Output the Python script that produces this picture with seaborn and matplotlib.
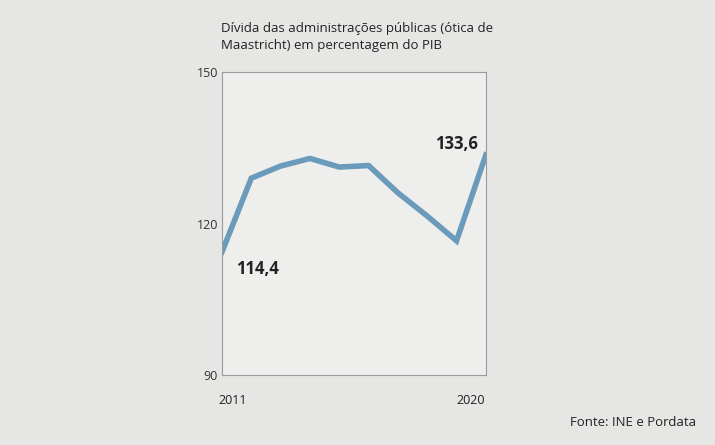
import matplotlib
matplotlib.use("Agg")
import matplotlib.pyplot as plt
import seaborn as sns
import pandas as pd

years = [2011, 2012, 2013, 2014, 2015, 2016, 2017, 2018, 2019, 2020]
debt = [114.4, 129.0, 131.4, 132.9, 131.2, 131.5, 126.1, 121.5, 116.6, 133.6]
yticks = [90, 120, 150]
df = pd.DataFrame({"ano": years, "divida": debt})

plt.rcParams["font.family"] = "Open Sans"
fig = plt.figure(figsize=(7.15, 4.45), dpi=100, facecolor="#e6e6e4")
ax = fig.add_axes([0.3105, 0.157, 0.369, 0.681])
ax.set_facecolor((1, 1, 1, 0.35))
sns.lineplot(data=df, x="ano", y="divida", ax=ax, color="#6b9bbb", linewidth=4,
             solid_joinstyle="miter")
ax.set_xlim(2011, 2020)
ax.set_ylim(90, 150)
ax.set_yticks(yticks)
ax.set_yticklabels([str(t) for t in yticks], fontsize=9, color="#333333")
ax.tick_params(axis="y", length=0, pad=3)
ax.set_xticks([])
ax.set_xlabel("")
ax.set_ylabel("")
for s in ax.spines.values():
    s.set_color("#9a9a9a")
    s.set_linewidth(0.8)

fig.text(233 / 715, 1 - 400 / 445, "2011", ha="center", va="center", fontsize=9, color="#222222")
fig.text(471 / 715, 1 - 400 / 445, "2020", ha="center", va="center", fontsize=9, color="#222222")
ax.annotate("114,4", (years[0], debt[0]), xytext=(10, -12), textcoords="offset points",
            fontsize=12, fontweight="bold", color="#222222", va="center")
ax.annotate("133,6", (years[-1], debt[-1]), xytext=(-6, 8), textcoords="offset points",
            fontsize=12, fontweight="bold", color="#222222", ha="right", va="center")
fig.text(221 / 715, 1 - 37 / 445,
         "Dívida das administrações públicas (ótica de\nMaastricht) em percentagem do PIB",
         ha="left", va="center", fontsize=9.5, color="#222222", linespacing=1.4)
fig.text(696 / 715, 1 - 423 / 445, "Fonte: INE e Pordata", ha="right", va="center",
         fontsize=9.5, color="#222222")
fig.savefig("out.png", dpi=100, facecolor=fig.get_facecolor())
